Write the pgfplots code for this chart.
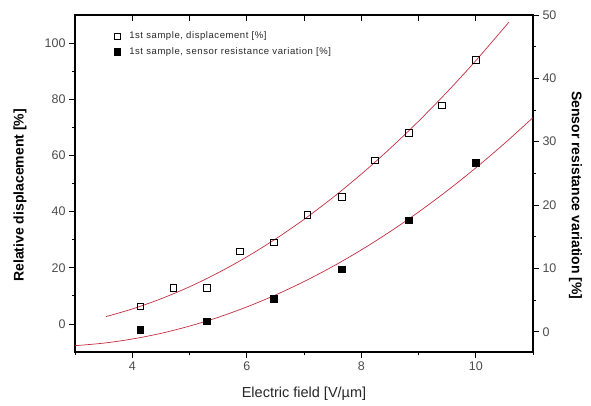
\documentclass[border=0pt]{standalone}
\usepackage{fontspec}
\setmainfont{Liberation Sans}
\usepackage{pgfplots}
\pgfplotsset{compat=1.18}

\definecolor{fitred}{RGB}{195,45,65}
\definecolor{ticktxt}{gray}{0.3}

% displacement points (left axis) and sensor points (right axis)
\pgfplotstableread{
x     y
4.14  6.3
4.72  12.8
5.30  12.8
5.88  25.9
6.47  29.1
7.06  38.8
7.66  45.3
8.24  58.2
8.83  68.1
9.41  77.8
10.00 94.1
}\displ

\pgfplotstableread{
x     y
4.14  0.3
5.30  1.7
6.47  5.2
7.66  9.9
8.83  17.6
10.00 26.7
}\sensor

% fitted curves
\pgfplotstableread{
x     y
3.54  2.60
4.0   5.32
4.5   8.93
5.0   13.22
5.5   18.20
6.0   23.86
6.5   30.20
7.0   37.22
7.5   44.93
8.0   53.32
8.5   62.40
9.0   72.16
9.5   82.60
10.0  93.72
10.58 107.48
}\displfit

\pgfplotstableread{
x     y
3.0   -2.20
3.5   -1.80
4.0   -1.15
4.5   -0.26
5.0   0.89
5.5   2.27
6.0   3.91
6.5   5.79
7.0   7.92
7.5   10.29
8.0   12.91
8.5   15.78
9.0   18.89
9.5   22.25
10.0  25.86
10.5  29.71
11.0  33.81
}\sensorfit

\pgfplotsset{
  common/.style={
    scale only axis, width=458pt, height=337pt,
    xmin=3, xmax=11,
    tick align=outside,
    major tick length=6pt, minor tick length=3pt,
    every tick/.style={black, line width=0.8pt},
    axis line style={line width=1.1pt},
    tick label style={font=\fontsize{12.5}{14}\selectfont, text=ticktxt},
    /pgf/number format/assume math mode=true,
    label style={font=\fontsize{14}{16}\selectfont\bfseries},
  }
}

\begin{document}
\begin{tikzpicture}
\path[use as bounding box] (-75pt,-53pt) rectangle (516pt,352pt);

\begin{axis}[common,
    ymin=-10, ymax=110,
    xtick={4,6,8,10}, minor xtick={3,5,7,9,11},
    ytick={0,20,...,100}, minor ytick={10,30,50,70,90},
    xtick pos=left, ytick pos=left,
    xlabel={Electric field [V/µm]},
    ylabel={Relative displacement [\%]},
    xlabel style={font=\fontsize{14.5}{16}\selectfont, text=black!85,
      at={(axis description cs:0.5,-0.125)}, anchor=center},
    ylabel style={at={(axis description cs:-0.120,0.465)}, anchor=center},
    legend style={draw=none, fill=none,
      font=\fontsize{9.5}{11}\selectfont\addfontfeatures{LetterSpace=6},
      text=black!85,
      at={(axis description cs:0.078,0.962)}, anchor=north west,
      row sep=3pt,
      /tikz/every odd column/.append style={column sep=7pt}},
    legend cell align=left,
  ]
  \addplot[fitred, line width=0.7pt, smooth, forget plot] table {\displfit};
  \addplot[only marks, mark=square, mark size=3.2pt,
    mark options={black, fill=white, line width=0.7pt}] table {\displ};
  \addlegendentry{1st sample, displacement [\%]}
  \addlegendimage{only marks, mark=square*, mark size=3.2pt, black}
  \addlegendentry{1st sample, sensor resistance variation [\%]}
\end{axis}

\begin{axis}[common,
    ymin=-3.2, ymax=50,
    axis x line=none, axis y line*=right,
    ytick={0,10,...,50}, minor ytick={5,15,...,45},
    ylabel={Sensor resistance variation [\%]},
    ylabel style={rotate=180, at={(axis description cs:1.093,0.465)}, anchor=center},
  ]
  \addplot[fitred, line width=0.7pt, smooth] table {\sensorfit};
  \addplot[only marks, mark=square*, mark size=3.2pt, black] table {\sensor};
\end{axis}

\begin{axis}[common,
    ymin=0, ymax=1,
    axis y line=none, axis x line*=top,
    tick align=inside,
    xtick={4,5,...,10}, xticklabels={},
  ]
\end{axis}
\end{tikzpicture}
\end{document}
